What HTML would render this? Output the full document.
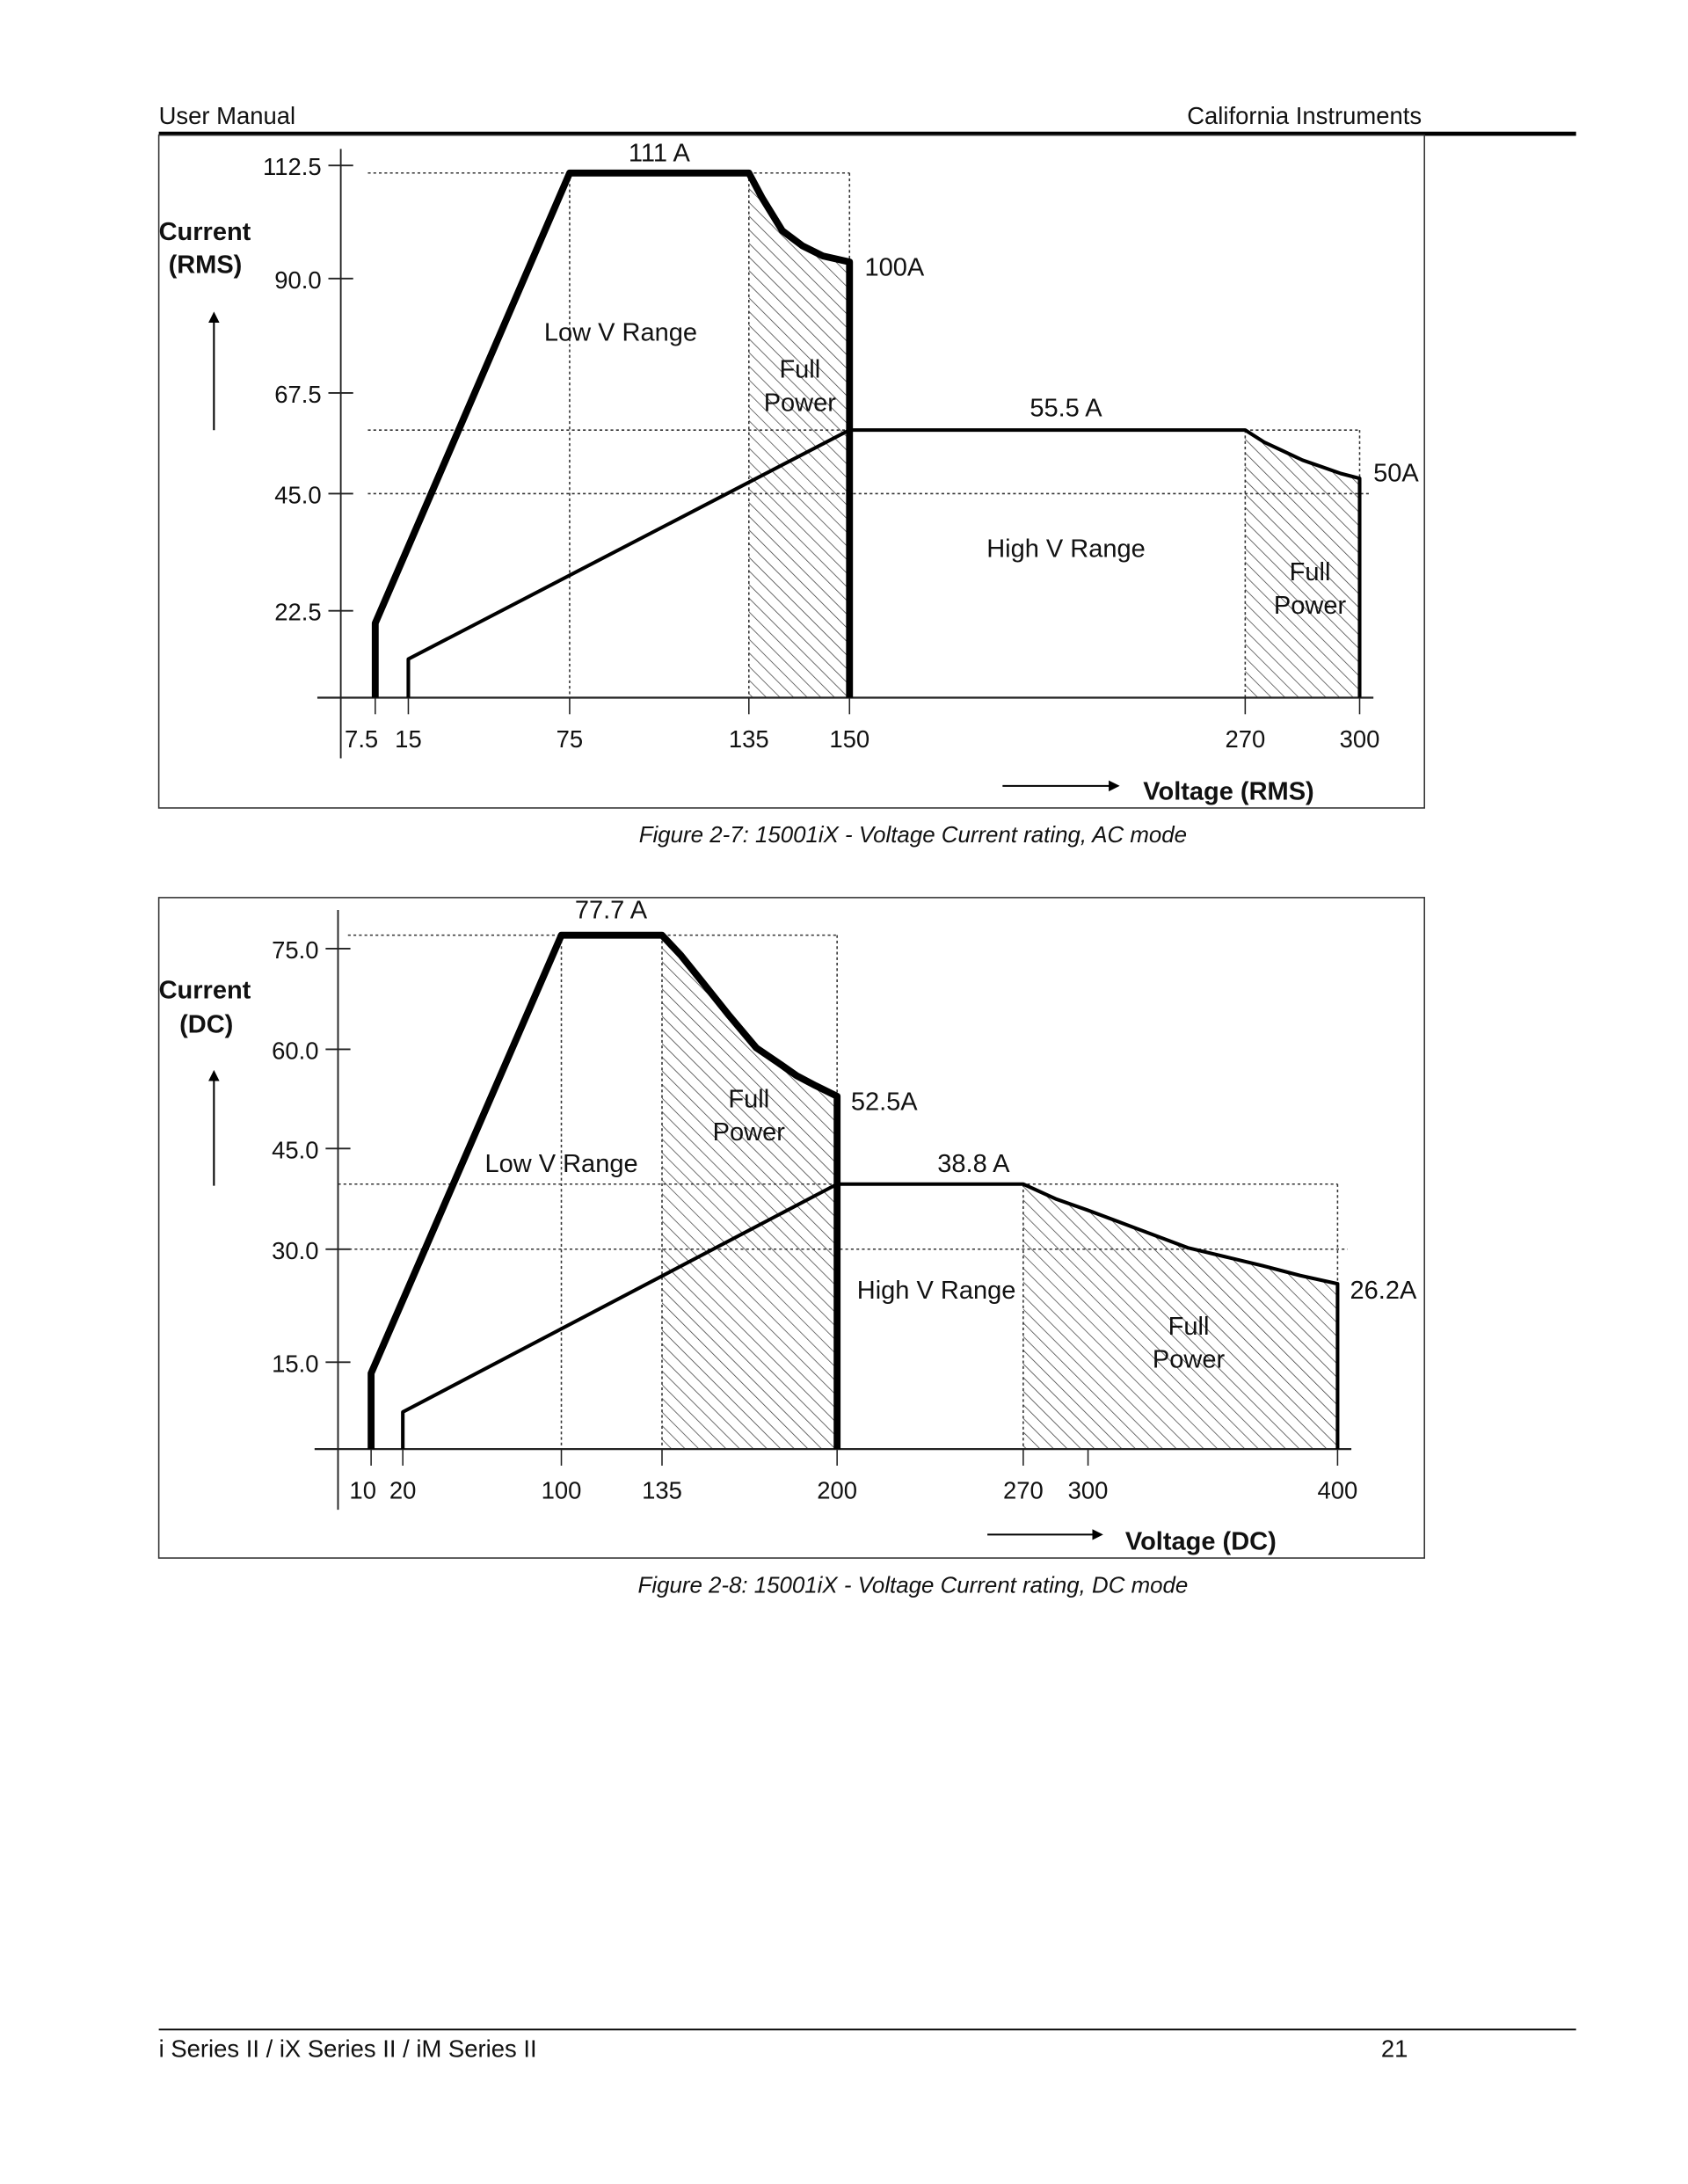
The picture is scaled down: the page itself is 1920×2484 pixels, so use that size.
<!DOCTYPE html>
<html><head><meta charset="utf-8">
<style>
html,body{margin:0;padding:0;background:#fff;}
svg{display:block;}
text{font-family:"Liberation Sans",sans-serif;fill:#111;}
</style></head>
<body>
<svg id="page" width="1920" height="2484" viewBox="0 0 1224 1584" xmlns="http://www.w3.org/2000/svg">
<defs>
<pattern id="hatch" patternUnits="userSpaceOnUse" width="7" height="7" patternTransform="rotate(-45)">
<line x1="0" y1="0" x2="0" y2="7" stroke="#333" stroke-width="0.9"/>
</pattern>
<marker id="arr" markerWidth="8" markerHeight="8" refX="6" refY="4" orient="auto" markerUnits="userSpaceOnUse"><path d="M0,0 L8,4 L0,8 z" fill="#000"/></marker>
</defs>
<text x="115" y="90" font-size="17.5">User Manual</text>
<text x="1031" y="90" font-size="17.5" text-anchor="end">California Instruments</text>
<line x1="115" y1="97" x2="1143" y2="97" stroke="#000" stroke-width="3"/>
<line x1="115" y1="1472" x2="1143" y2="1472" stroke="#000" stroke-width="1.2"/>
<text x="115" y="1492" font-size="17.5">i Series II / iX Series II / iM Series II</text>
<text x="1021" y="1492" font-size="17.5" text-anchor="end">21</text>
<g id="ac"></g>
<g id="dc"></g>
<text x="662" y="611" font-size="16.5" font-style="italic" text-anchor="middle">Figure 2-7: 15001iX - Voltage Current rating, AC mode</text>
<text x="662" y="1155" font-size="16.5" font-style="italic" text-anchor="middle">Figure 2-8: 15001iX - Voltage Current rating, DC mode</text>
</svg>
<script>
// AC chart data
const acXTicks=[7.5,15,75,135,150,270,300];
const acXTickLabels=["7.5","15","75","135","150","270","300"];
const acYTicks=[22.5,45,67.5,90,112.5];
const acYTickLabels=["22.5","45.0","67.5","90.0","112.5"];
const acLowV=[7.5,7.5,75,135,137,140,143,146,150,150];
const acLowI=[0,19.3,111,111,106,99.5,96.5,94.5,93.3,0];
const acHighV=[15,15,150,270,275,280,285,290,295,300,300];
const acHighI=[0,10,59.2,59.2,56.5,54.5,52.5,51,49.5,48.4,0];
// DC chart data
const dcXTicks=[10,20,100,135,200,270,300,400];
const dcXTickLabels=["10","20","100","135","200","270","300","400"];
const dcYTicks=[15,30,45,60,75];
const dcYTickLabels=["15.0","30.0","45.0","60.0","75.0"];
const dcLowV=[10,10,100,135,142,150,160,170,178,185,192,200,200];
const dcLowI=[0,13.1,77,77,74,70,65,60.2,58,56,54.5,52.9,0];
const dcHighV=[20,20,200,270,285,300,320,340,355,370,385,400,400];
const dcHighI=[0,6.4,39.7,39.7,37.5,35.8,33,30.2,29,27.8,26.5,25.4,0];

const NS="http://www.w3.org/2000/svg";
function pw(dom,rng){return v=>{for(let i=0;i<dom.length-1;i++){if(v<=dom[i+1]||i===dom.length-2){const t=(v-dom[i])/(dom[i+1]-dom[i]);return rng[i]+t*(rng[i+1]-rng[i]);}}};}
function el(p,tag,a,txt){const e=document.createElementNS(NS,tag);for(const k in a)e.setAttribute(k,a[k]);if(txt!==undefined)e.textContent=txt;p.appendChild(e);return e;}
function pts(V,I,x,y){return V.map((v,i)=>x(v).toFixed(1)+","+y(I[i]).toFixed(1)).join(" ");}

function chart(g,c){
  const x=pw(c.xd,c.xr), y=pw(c.yd,c.yr);
  const box=el(g,"rect",{x:115,y:c.top,width:918,height:c.h,fill:"none",stroke:"#333","stroke-width":1});
  
  
  c.hatch.forEach(r=>{
    const V=c[r.s+"V"],I=c[r.s+"I"];const pv=[],pi=[];
    V.forEach((v,i)=>{if(v>=r.a&&v<=r.b&&I[i]>0){pv.push(v);pi.push(I[i]);}});
    const p=el(g,"polygon",{points:x(r.a)+","+y(0)+" "+pts(pv,pi,x,y)+" "+x(r.b)+","+y(0),fill:"url(#hatch)"});
    
    
  });
  c.dh.forEach(d=>{const l=el(g,"line",{x1:x(d[1]),x2:x(d[2]),y1:y(d[0]),y2:y(d[0]),stroke:"#333","stroke-width":1,"stroke-dasharray":"2,2"});
    
    });
  c.dv.forEach(d=>{const l=el(g,"line",{x1:x(d[0]),x2:x(d[0]),y1:y(d[1]),y2:y(d[2]),stroke:"#333","stroke-width":1,"stroke-dasharray":"2,2"});
    
    });
  const ya=el(g,"line",{x1:c.ax,x2:c.ax,y1:c.ytop,y2:y(0)+44,stroke:"#222","stroke-width":1.2});
  
  
  const xa=el(g,"line",{x1:c.ax-17,x2:c.xend,y1:y(0),y2:y(0),stroke:"#222","stroke-width":1.4});
  
  
  c.yt.forEach((t,i)=>{
    const tk=el(g,"line",{x1:c.ax-9,x2:c.ax+9,y1:y(t),y2:y(t),stroke:"#222","stroke-width":1.2});
    
    
    const lb=el(g,"text",{x:c.ax-14,y:y(t)+7,"font-size":17.5,"text-anchor":"end"},c.ytl[i]);
    
    
  });
  c.xt.forEach((t,i)=>{
    const tk=el(g,"line",{x1:x(t),x2:x(t),y1:y(0),y2:y(0)+12,stroke:"#222","stroke-width":1});
    
    
    const lb=el(g,"text",{x:x(t)+(c.xoff[i]||0),y:y(0)+36,"font-size":17.5,"text-anchor":"middle"},c.xtl[i]);
    
    
  });
  const lo=el(g,"polyline",{points:pts(c.lowV,c.lowI,x,y),fill:"none",stroke:"#000","stroke-width":5,"stroke-linejoin":"round"});
  
  
  const hi=el(g,"polyline",{points:pts(c.highV,c.highI,x,y),fill:"none",stroke:"#000","stroke-width":2.6,"stroke-linejoin":"round"});
  
  
  c.labels.forEach(L=>{const t=el(g,"text",{x:L[0],y:L[1],"font-size":L[4]||18.5,"text-anchor":L[3]||"middle","font-weight":L[5]||"normal"},L[2]);
    
    });
  const au=el(g,"line",{x1:155,y1:c.upArrow[1],x2:155,y2:c.upArrow[0],stroke:"#000","stroke-width":1.3,"marker-end":"url(#arr)"});
  
  
  const ar=el(g,"line",{x1:c.rArrow[0],y1:c.rArrow[2],x2:c.rArrow[1],y2:c.rArrow[2],stroke:"#000","stroke-width":1.3,"marker-end":"url(#arr)"});
  
  
}

chart(document.getElementById("ac"),{
  top:98,h:488,ax:247,ytop:108,xend:996,
  xd:[0,7.5,15,75,135,150,270,300],xr:[256,272,296,413,543,616,903,986],
  yd:[0,22.5,45,67.5,90,112.5],yr:[506,443,358,285,202,120],
  xt:acXTicks,xtl:acXTickLabels,xoff:[-10,0,0,0,0,0,0],yt:acYTicks,ytl:acYTickLabels,
  lowV:acLowV,lowI:acLowI,highV:acHighV,highI:acHighI,
  hatch:[{s:"low",a:135,b:150},{s:"high",a:270,b:300}],
  dh:[[111,5,150],[59.2,5,300],[45,5,303]],
  dv:[[75,111,0],[135,111,0],[150,111,0],[270,59.2,0],[300,59.2,0]],
  labels:[[478,117,"111 A"],[627,200,"100A","start"],[450,247,"Low V Range"],[580,274,"Full"],[580,298,"Power"],
    [773,302,"55.5 A"],[996,349,"50A","start"],[773,404,"High V Range"],[950,421,"Full"],[950,445,"Power"],
    [115,174,"Current","start",18.5,"bold"],[122,198,"(RMS)","start",18.5,"bold"],[829,580,"Voltage (RMS)","start",18.5,"bold"]],
  upArrow:[228,312],rArrow:[727,810,570]
});
chart(document.getElementById("dc"),{
  top:651,h:479,ax:245,ytop:660,xend:980,
  xd:[0,10,20,100,135,200,270,300,400],xr:[245,269,292,407,480,607,742,789,970],
  yd:[0,15,30,45,60,75,90],yr:[1051,988,906,833,761,688,615],
  xt:dcXTicks,xtl:dcXTickLabels,xoff:[-6,0,0,0,0,0,0,0],yt:dcYTicks,ytl:dcYTickLabels,
  lowV:dcLowV,lowI:dcLowI,highV:dcHighV,highI:dcHighI,
  hatch:[{s:"low",a:135,b:200},{s:"high",a:270,b:400}],
  dh:[[77,3,200],[39.7,0,400],[30,0,404]],
  dv:[[100,77,0],[135,77,0],[200,77,0],[270,39.7,0],[400,39.7,0]],
  labels:[[443,666,"77.7 A"],[617,805,"52.5A","start"],[543,803,"Full"],[543,827,"Power"],[407,850,"Low V Range"],
    [706,850,"38.8 A"],[679,942,"High V Range"],[979,942,"26.2A","start"],[862,968,"Full"],[862,992,"Power"],
    [115,724,"Current","start",18.5,"bold"],[130,749,"(DC)","start",18.5,"bold"],[816,1124,"Voltage (DC)","start",18.5,"bold"]],
  upArrow:[778,860],rArrow:[716,798,1113]
});
</script>
</body></html>
